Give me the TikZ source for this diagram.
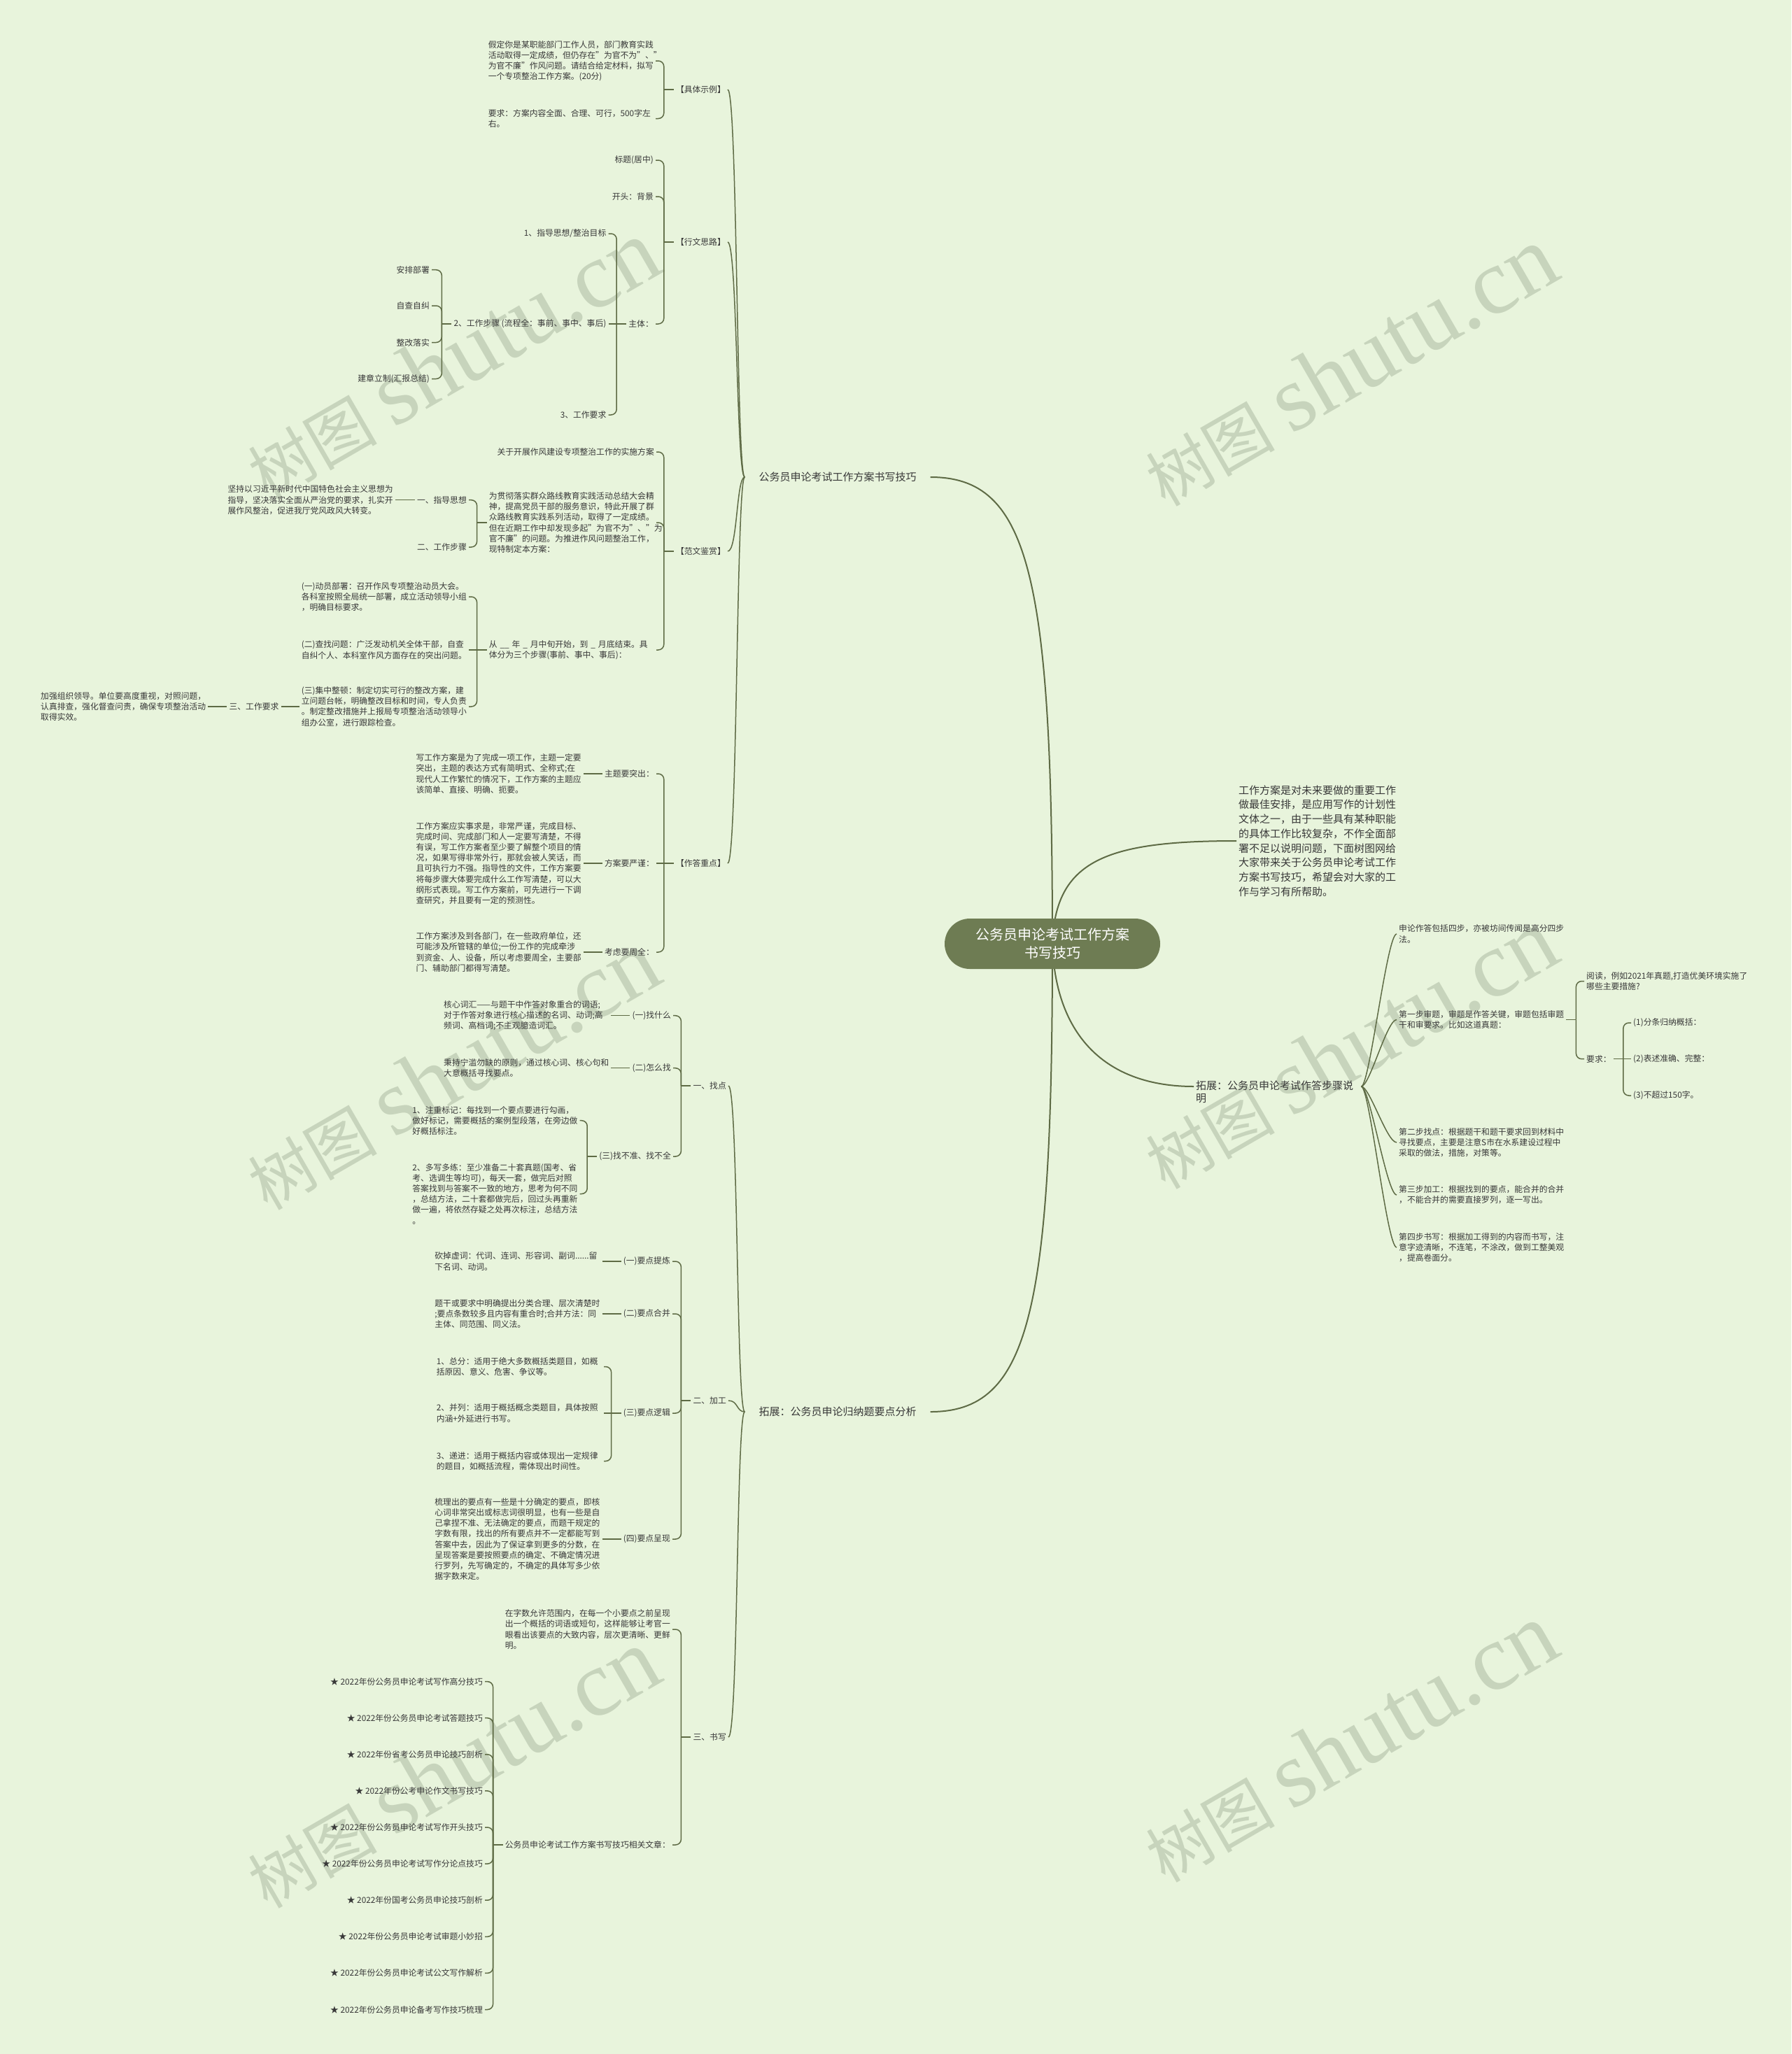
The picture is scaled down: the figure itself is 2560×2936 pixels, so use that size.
\documentclass[tikz,border=0pt]{standalone}
\usepackage{fontspec}
\setmainfont{Noto Sans CJK SC}
\newfontfamily\wmlat{Liberation Serif}
\usepackage{tikz}
\usetikzlibrary{positioning,calc}

\definecolor{bgc}{HTML}{E8F4DC}
\definecolor{ln}{HTML}{5E6B45}
\definecolor{txt}{HTML}{383838}
\definecolor{rootc}{HTML}{6E7C53}
\definecolor{wm}{HTML}{C7D4BC}

\newcommand\tsz{\fontsize{11.8pt}{15.2pt}\selectfont}
\newcommand\lsz{\fontsize{15pt}{18.5pt}\selectfont}
\newcommand\isz{\fontsize{15pt}{20.7pt}\selectfont}
\newcommand\rsz{\fontsize{20pt}{25.6pt}\selectfont}

% bracket: parent on the right, children on the left
\newcommand\brakl[2]{%
  \foreach \ch in {#2}{\draw[br] (\ch.east) -| ([xshift=-14pt]#1.west);}
  \draw[br] ([xshift=-14pt]#1.west) -- (#1.west);}
% bracket: parent on the left, children on the right
\newcommand\brakr[2]{%
  \foreach \ch in {#2}{\draw[br] (\ch.west) -| ([xshift=14pt]#1.east);}
  \draw[br] (#1.east) -- ([xshift=14pt]#1.east);}

\begin{document}
\begin{tikzpicture}[x=1pt,y=-1pt,
  br/.style={draw=ln,line width=1.5pt,rounded corners=8pt},
  cv/.style={draw=ln,line width=1.5pt},
  mc/.style={draw=ln,line width=2pt},
  leaf/.style={font=\tsz,text=txt,inner xsep=3pt,inner ysep=1pt,align=left},
  wleaf/.style={leaf,text width=236pt},
  blab/.style={font=\lsz,text=txt,inner xsep=20pt,inner ysep=2pt},
  rlab/.style={font=\lsz,text=txt,inner xsep=3pt,inner ysep=2pt,align=left},
  intro/.style={font=\isz,text=txt,inner xsep=3pt,align=left,text width=226pt},
  rootbox/.style={fill=rootc,text=white,rounded corners=36pt,minimum width=308pt,
    minimum height=72pt,font=\rsz,align=center},
  wmark/.style={rotate=30,text=wm,inner sep=0pt}]

\fill[bgc] (0,0) rectangle (2560,2936);
\useasboundingbox (0,0) rectangle (2560,2936);

% watermarks
\foreach \wx/\wy [count=\k] in {646/515,1929/524,646/1530,1929/1500,646/2528,1929/2491}
  \node[wmark] (wm\k) at (\wx,\wy) {{\fontsize{92pt}{92pt}\selectfont 树图}\hspace{24pt}{\wmlat\fontsize{134pt}{134pt}\selectfont shutu.cn}};

% main branches
\node[blab] (b1) at (1197,682) {公务员申论考试工作方案书写技巧};
\node[blab] (b2) at (1197,2018) {拓展：公务员申论归纳题要点分析};
\node[intro,anchor=west] (intro) at (1767,1202) {工作方案是对未来要做的重要工作\\做最佳安排，是应用写作的计划性\\文体之一，由于一些具有某种职能\\的具体工作比较复杂，不作全面部\\署不足以说明问题，下面树图网给\\大家带来关于公务员申论考试工作\\方案书写技巧，希望会对大家的工\\作与学习有所帮助。};
\node[rlab,anchor=west] (rb) at (1706,1561) {拓展：公务员申论考试作答步骤说\\明};

% second level
\node[leaf,anchor=east] (jt) at (1040,128) {【具体示例】};
\node[leaf,anchor=east] (xw) at (1040,346) {【行文思路】};
\node[leaf,anchor=east] (fw) at (1040,788) {【范文鉴赏】};
\node[leaf,anchor=east] (zd) at (1040,1234) {【作答重点】};
\node[leaf,anchor=east] (zp) at (1041,1552) {一、找点};
\node[leaf,anchor=east] (jg) at (1041,2002) {二、加工};
\node[leaf,anchor=east] (sx) at (1041,2483) {三、书写};

% 具体示例
\node[wleaf,anchor=east] (jt1) at (937,87) {假定你是某职能部门工作人员，部门教育实践\\活动取得一定成绩，但仍存在"为官不为"、"\\为官不廉"作风问题。请结合给定材料，拟写\\一个专项整治工作方案。(20分)};
\node[wleaf,anchor=east] (jt2) at (937,169.5) {要求：方案内容全面、合理、可行，500字左\\右。};

% 行文思路
\node[leaf,anchor=east] (xw1) at (937,229) {标题(居中)};
\node[leaf,anchor=east] (xw2) at (937,281) {开头：背景};
\node[leaf,anchor=east] (xw3) at (937,463) {主体：};
\node[leaf,anchor=east] (zt1) at (869.5,334) {1、指导思想/整治目标};
\node[leaf,anchor=east] (zt2) at (869.5,463) {2、工作步骤 (流程全：事前、事中、事后)};
\node[leaf,anchor=east] (zt3) at (869.5,593) {3、工作要求};
\node[leaf,anchor=east] (bz1) at (617,385.7) {安排部署};
\node[leaf,anchor=east] (bz2) at (617,437) {自查自纠};
\node[leaf,anchor=east] (bz3) at (617,489.5) {整改落实};
\node[leaf,anchor=east] (bz4) at (617,541.5) {建章立制(汇报总结)};

% 范文鉴赏
\node[leaf,anchor=east] (fw1) at (938,646) {关于开展作风建设专项整治工作的实施方案};
\node[wleaf,anchor=east] (fw2) at (938,747) {为贯彻落实群众路线教育实践活动总结大会精\\神，提高党员干部的服务意识，特此开展了群\\众路线教育实践系列活动，取得了一定成绩。\\但在近期工作中却发现多起"为官不为"、"为\\官不廉"的问题。为推进作风问题整治工作，\\现特制定本方案：};
\node[wleaf,anchor=east] (fw3) at (938,929) {从 \_\_ 年 \_ 月中旬开始，到 \_ 月底结束。具\\体分为三个步骤(事前、事中、事后)：};
\node[leaf,anchor=east] (zx) at (670,714.7) {一、指导思想};
\node[leaf,anchor=east] (gb) at (670,782) {二、工作步骤};
\node[wleaf,left=28pt of zx] (zx1) {坚持以习近平新时代中国特色社会主义思想为\\指导，坚决落实全面从严治党的要求，扎实开\\展作风整治，促进我厅党风政风大转变。};
\node[wleaf,anchor=east] (dy) at (670,853) {(一)动员部署：召开作风专项整治动员大会。\\各科室按照全局统一部署，成立活动领导小组\\，明确目标要求。};
\node[wleaf,anchor=east] (cz) at (670,929) {(二)查找问题：广泛发动机关全体干部，自查\\自纠个人、本科室作风方面存在的突出问题。};
\node[wleaf,anchor=east] (jz) at (670,1010) {(三)集中整顿：制定切实可行的整改方案，建\\立问题台帐，明确整改目标和时间，专人负责\\。制定整改措施并上报局专项整治活动领导小\\组办公室，进行跟踪检查。};
\node[leaf,left=26pt of jz] (yq) {三、工作要求};
\node[wleaf,left=27pt of yq] (yq1) {加强组织领导。单位要高度重视，对照问题，\\认真排查，强化督查问责，确保专项整治活动\\取得实效。};

% 作答重点
\node[leaf,anchor=east] (zd1) at (938,1106) {主题要突出：};
\node[leaf,anchor=east] (zd2) at (938,1234) {方案要严谨：};
\node[leaf,anchor=east] (zd3) at (938,1361) {考虑要周全：};
\node[wleaf,left=27pt of zd1] (zd1a) {写工作方案是为了完成一项工作，主题一定要\\突出，主题的表达方式有简明式、全称式;在\\现代人工作繁忙的情况下，工作方案的主题应\\该简单、直接、明确、扼要。};
\node[wleaf,left=27pt of zd2] (zd2a) {工作方案应实事求是，非常严谨，完成目标、\\完成时间、完成部门和人一定要写清楚，不得\\有误，写工作方案者至少要了解整个项目的情\\况，如果写得非常外行，那就会被人笑话，而\\且可执行力不强。指导性的文件，工作方案要\\将每步骤大体要完成什么工作写清楚，可以大\\纲形式表现。写工作方案前，可先进行一下调\\查研究，并且要有一定的预测性。};
\node[wleaf,left=27pt of zd3] (zd3a) {工作方案涉及到各部门，在一些政府单位，还\\可能涉及所管辖的单位;一份工作的完成牵涉\\到资金、人、设备，所以考虑要周全，主要部\\门、辅助部门都得写清楚。};

% 找点
\node[leaf,anchor=east] (zp1) at (962,1451.7) {(一)找什么};
\node[leaf,anchor=east] (zp2) at (962,1526.7) {(二)怎么找};
\node[leaf,anchor=east] (zp3) at (962,1653) {(三)找不准、找不全};
\node[wleaf,left=27pt of zp1] (zp1a) {核心词汇——与题干中作答对象重合的词语;\\对于作答对象进行核心描述的名词、动词;高\\频词、高档词;不主观臆造词汇。};
\node[wleaf,left=27pt of zp2] (zp2a) {秉持宁滥勿缺的原则，通过核心词、核心句和\\大意概括寻找要点。};
\node[wleaf,anchor=east] (zp3a) at (828.6,1601.7) {1、注重标记：每找到一个要点要进行勾画，\\做好标记，需要概括的案例型段落，在旁边做\\好概括标注。};
\node[wleaf,anchor=east] (zp3b) at (828.6,1706.5) {2、多写多练：至少准备二十套真题(国考、省\\考、选调生等均可)，每天一套，做完后对照\\答案找到与答案不一致的地方，思考为何不同\\，总结方法，二十套都做完后，回过头再重新\\做一遍，将依然存疑之处再次标注，总结方法\\。};

% 加工
\node[leaf,anchor=east] (jg1) at (961,1803) {(一)要点提炼};
\node[leaf,anchor=east] (jg2) at (961,1878) {(二)要点合并};
\node[leaf,anchor=east] (jg3) at (961,2020) {(三)要点逻辑};
\node[leaf,anchor=east] (jg4) at (961,2200) {(四)要点呈现};
\node[wleaf,left=27pt of jg1] (jg1a) {砍掉虚词：代词、连词、形容词、副词......留\\下名词、动词。};
\node[wleaf,left=27pt of jg2] (jg2a) {题干或要求中明确提出分类合理、层次清楚时\\;要点条数较多且内容有重合时;合并方法：同\\主体、同范围、同义法。};
\node[wleaf,left=27pt of jg4] (jg4a) {梳理出的要点有一些是十分确定的要点，即核\\心词非常突出或标志词很明显，也有一些是自\\己拿捏不准、无法确定的要点，而题干规定的\\字数有限，找出的所有要点并不一定都能写到\\答案中去，因此为了保证拿到更多的分数，在\\呈现答案是要按照要点的确定、不确定情况进\\行罗列，先写确定的，不确定的具体写多少依\\据字数来定。};
\node[wleaf,anchor=east] (lj1) at (863,1953.5) {1、总分：适用于绝大多数概括类题目，如概\\括原因、意义、危害、争议等。};
\node[wleaf,anchor=east] (lj2) at (863,2020) {2、并列：适用于概括概念类题目，具体按照\\内涵+外延进行书写。};
\node[wleaf,anchor=east] (lj3) at (863,2088.5) {3、递进：适用于概括内容或体现出一定规律\\的题目，如概括流程，需体现出时间性。};

% 书写
\node[wleaf,anchor=east] (sx1) at (961,2329) {在字数允许范围内，在每一个小要点之前呈现\\出一个概括的词语或短句，这样能够让考官一\\眼看出该要点的大致内容，层次更清晰、更鲜\\明。};
\node[leaf,anchor=east] (sx2) at (961,2637) {公务员申论考试工作方案书写技巧相关文章：};
\foreach \s [count=\i] in {公务员申论考试写作高分技巧,公务员申论考试答题技巧,省考公务员申论技巧剖析,公考申论作文书写技巧,公务员申论考试写作开头技巧,公务员申论考试写作分论点技巧,国考公务员申论技巧剖析,公务员申论考试审题小妙招,公务员申论考试公文写作解析,公务员申论备考写作技巧梳理}
  \node[leaf,anchor=east] (ar\i) at (693,{2403.6+52.1*(\i-1)}) {★ 2022年份\s};

% right side
\node[wleaf,anchor=west] (s0) at (1996,1335) {申论作答包括四步，亦被坊间传闻是高分四步\\法。};
\node[wleaf,anchor=west] (s1) at (1996,1457.5) {第一步审题，审题是作答关键，审题包括审题\\干和审要求。比如这道真题：};
\node[wleaf,anchor=west] (s2) at (1996,1633) {第二步找点：根据题干和题干要求回到材料中\\寻找要点，主要是注意S市在水系建设过程中\\采取的做法，措施，对策等。};
\node[wleaf,anchor=west] (s3) at (1996,1708) {第三步加工：根据找到的要点，能合并的合并\\，不能合并的需要直接罗列，逐一写出。};
\node[wleaf,anchor=west] (s4) at (1996,1783) {第四步书写：根据加工得到的内容而书写，注\\意字迹清晰，不连笔，不涂改，做到工整美观\\，提高卷面分。};
\node[wleaf,anchor=west] (yd) at (2264,1402.5) {阅读，例如2021年真题,打造优美环境实施了\\哪些主要措施?};
\node[leaf,anchor=west] (yqr) at (2264,1513.7) {要求：};
\node[leaf,anchor=west] (r1) at (2331,1462) {(1)分条归纳概括：};
\node[leaf,anchor=west] (r2) at (2331,1513.7) {(2)表述准确、完整：};
\node[leaf,anchor=west] (r3) at (2331,1566) {(3)不超过150字。};

% curves from the main branches
\foreach \ch in {jt,xw,fw,zd}
  \draw[cv] (\ch.east) .. controls +(14,0) and +(-12,0) .. (b1.west);
\foreach \ch in {zp,jg,sx}
  \draw[cv] (\ch.east) .. controls +(14,0) and +(-12,0) .. (b2.west);
\foreach \ch in {s0,s1,s2,s3,s4}
  \draw[cv] ([shift={(8pt,8pt)}]rb.east) .. controls +(12,0) and +(-14,0) .. (\ch.west);

% brackets
\brakl{jt}{jt1,jt2}
\brakl{xw}{xw1,xw2,xw3}
\brakl{xw3}{zt1,zt3}
\draw[br] (zt2.east) -- (xw3.west);
\brakl{zt2}{bz1,bz2,bz3,bz4}
\brakl{fw}{fw1,fw2,fw3}
\brakl{fw2}{zx,gb}
\brakl{fw3}{dy,jz}
\draw[br] (cz.east) -- (fw3.west);
\draw[br] (zx1.east) -- (zx.west);
\draw[br] (yq.east) -- (jz.west);
\draw[br] (yq1.east) -- (yq.west);
\brakl{zd}{zd1,zd3}
\draw[br] (zd2.east) -- (zd.west);
\foreach \ch in {zd1,zd2,zd3} \draw[br] (\ch a.east) -- (\ch.west);
\brakl{zp}{zp1,zp2,zp3}
\foreach \ch in {zp1,zp2} \draw[br] (\ch a.east) -- (\ch.west);
\brakl{zp3}{zp3a,zp3b}
\brakl{jg}{jg1,jg2,jg3,jg4}
\foreach \ch in {jg1,jg2,jg4} \draw[br] (\ch a.east) -- (\ch.west);
\brakl{jg3}{lj1,lj3}
\draw[br] (lj2.east) -- (jg3.west);
\brakl{sx}{sx1,sx2}
\brakl{sx2}{ar1,ar2,ar3,ar4,ar5,ar6,ar7,ar8,ar9,ar10}
\brakr{s1}{yd,yqr}
\brakr{yqr}{r1,r3}
\draw[br] (yqr.east) -- (r2.west);

% centre
\coordinate (rc) at (1504,1349);
\draw[mc] (rc) .. controls (1504,820) and (1470,682) .. (b1.east);
\draw[mc] (rc) .. controls (1504,1880) and (1470,2018) .. (b2.east);
\draw[mc] (rc) .. controls (1508,1230) and (1580,1202) .. (intro.west);
\draw[mc] (rc) .. controls (1508,1480) and (1580,1553) .. ([yshift=8pt]rb.west);
\node[rootbox] (root) at (rc) {公务员申论考试工作方案\\书写技巧};
\end{tikzpicture}
\end{document}
